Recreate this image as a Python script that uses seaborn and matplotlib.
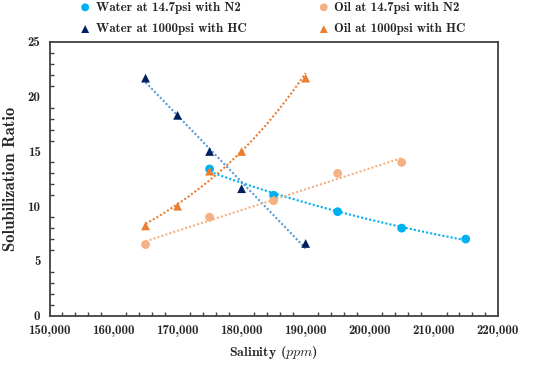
import numpy as np
import pandas as pd
import matplotlib
matplotlib.use('Agg')
import matplotlib.pyplot as plt
from matplotlib.ticker import MultipleLocator, FuncFormatter
import seaborn as sns

# data
water_n2_x = [175000, 185000, 195000, 205000, 215000]
water_n2_y = [13.4, 11.0, 9.5, 8.0, 7.0]
oil_n2_x = [165000, 175000, 185000, 195000, 205000]
oil_n2_y = [6.5, 9.0, 10.5, 13.0, 14.0]
water_hc_x = [165000, 170000, 175000, 180000, 190000]
water_hc_y = [21.7, 18.3, 15.0, 11.6, 6.6]
oil_hc_x = [165000, 170000, 175000, 180000, 190000]
oil_hc_y = [8.2, 10.0, 13.2, 15.0, 21.7]

series = [
    # label, x, y, marker, color, trend type, trend color
    ('Water at 14.7psi with N2', water_n2_x, water_n2_y, 'o', '#00B0F0', 'exp', '#00B0F0'),
    ('Water at 1000psi with HC', water_hc_x, water_hc_y, '^', '#002060', 'lin', '#5B9BD5'),
    ('Oil at 14.7psi with N2', oil_n2_x, oil_n2_y, 'o', '#F4B183', 'lin', '#F4B183'),
    ('Oil at 1000psi with HC', oil_hc_x, oil_hc_y, '^', '#ED7D31', 'exp', '#ED7D31'),
]

sns.set_style('white')
plt.rcParams['font.family'] = ['cmb10', 'DejaVu Serif']
plt.rcParams['mathtext.fontset'] = 'cm'

fig, ax = plt.subplots(figsize=(5.5, 3.65), dpi=100)
fig.subplots_adjust(left=0.09, right=0.905, top=0.885, bottom=0.135)

# trendlines first (behind markers)
for label, x, y, m, c, kind, tc in series:
    x = np.array(x, dtype=float)
    y = np.array(y, dtype=float)
    xs = np.linspace(x.min(), x.max(), 100)
    if kind == 'lin':
        p = np.polyfit(x, y, 1)
        ys = np.polyval(p, xs)
    else:
        p = np.polyfit(x, np.log(y), 1)
        ys = np.exp(np.polyval(p, xs))
    ax.plot(xs, ys, linestyle=(0, (1, 1)), color=tc, lw=1.5, zorder=2)

for label, x, y, m, c, kind, tc in series:
    df = pd.DataFrame({'x': x, 'y': y})
    sns.scatterplot(data=df, x='x', y='y', marker=m, color=c, s=40,
                    edgecolor='none', label=label, ax=ax, zorder=3)

ax.set_xlim(150000, 220000)
ax.set_ylim(0, 25)
ax.xaxis.set_major_locator(MultipleLocator(10000))
ax.xaxis.set_minor_locator(MultipleLocator(2000))
ax.yaxis.set_major_locator(MultipleLocator(5))
ax.yaxis.set_minor_locator(MultipleLocator(1))
ax.xaxis.set_major_formatter(FuncFormatter(lambda v, p: f'{int(v):,}'))
ax.yaxis.set_major_formatter(FuncFormatter(lambda v, p: f'{int(v)}'))
ax.tick_params(which='major', direction='inout', length=6, width=1, color='#404040',
               labelsize=9.3, labelcolor='#262626', top=False, right=False)
ax.tick_params(which='minor', direction='in', length=3, width=1, color='#404040',
               top=False, right=False, bottom=True, left=True)
for sp in ax.spines.values():
    sp.set_color('#404040')
    sp.set_linewidth(1.3)

ax.set_xlabel('Salinity ($\\mathit{ppm}$)', fontsize=10, color='#262626', labelpad=5)
ax.set_ylabel('Solubilization Ratio', fontsize=12, color='#262626', labelpad=7)

handles, labels = ax.get_legend_handles_labels()
leg = ax.legend(handles, labels, loc='lower left', bbox_to_anchor=(0.045, 1.005),
                ncol=2, frameon=False, handletextpad=0.0, handlelength=1.6,
                columnspacing=5.2, borderaxespad=0, labelspacing=0.75,
                markerscale=0.9, prop={'family': ['cmb10', 'DejaVu Serif'], 'size': 9.3})
for t in leg.get_texts():
    t.set_color('#262626')

fig.savefig('out.png', dpi=100)
